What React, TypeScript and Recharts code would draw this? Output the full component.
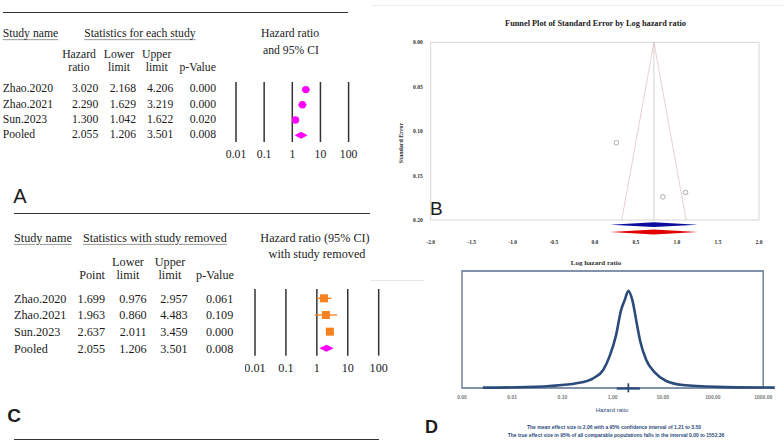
import React from "react";
import {
  ComposedChart,
  Line,
  Area,
  Scatter,
  XAxis,
  YAxis,
  ReferenceLine,
  ReferenceArea
} from "recharts";

// A: statistics for each study (last row is the pooled estimate)
const studies = ["Zhao.2020", "Zhao.2021", "Sun.2023", "Pooled"];
const hazardRatio = [3.02, 2.29, 1.3, 2.055];
const lowerLimit = [2.168, 1.629, 1.042, 1.206];
const upperLimit = [4.206, 3.219, 1.622, 3.501];
const pValue = [0.0, 0.0, 0.02, 0.008];

// C: statistics with study removed
const removedPoint = [1.699, 1.963, 2.637, 2.055];
const removedLower = [0.976, 0.86, 2.011, 1.206];
const removedUpper = [2.957, 4.483, 3.459, 3.501];
const removedP = [0.061, 0.109, 0.0, 0.008];

const forestTicks = [0.01, 0.1, 1, 10, 100];

// B: funnel plot (log hazard ratio vs standard error)
const studyLogHR = [1.105, 0.829, 0.262];
const studySE = [0.169, 0.174, 0.113];
const pooledLogHR = 0.72;
const pooledLogLower = 0.187;
const pooledLogUpper = 1.253;
const funnelLogHR = [0.328, 0.72, 1.112];
const funnelSE = [0.2, 0, 0.2];
const seTicks = [0, 0.05, 0.1, 0.15, 0.2];
const logTicks = [-2, -1.5, -1, -0.5, 0, 0.5, 1, 1.5, 2];

// D: distribution of true effects
const densityHR = [0.0026, 0.012, 0.056, 0.19, 0.41, 0.65, 0.87, 1.17, 1.48, 1.74, 2.06, 2.51, 2.95, 3.55, 4.68, 6.9, 11.7, 25, 117, 1700];
const densityValue = [0.003, 0.006, 0.017, 0.04, 0.083, 0.154, 0.27, 0.45, 0.667, 0.75, 0.83, 0.74, 0.58, 0.4, 0.24, 0.134, 0.06, 0.026, 0.01, 0.003];
const hrTicks = [0.001, 0.01, 0.1, 1, 10, 100, 1000];
const meanHR = 2.06;
const ciLower = 1.21;
const ciUpper = 3.5;
const piLower = 0.0;
const piUpper = 1552.36;

const SERIF = "'Liberation Serif', 'Times New Roman', serif";
const SANS = "'Liberation Sans', Arial, sans-serif";
const MAGENTA = "#ff00ff";
const ORANGE = "#f5821f";
const NAVY = "#2b4b7b";

type TxtProps = {
  x: number;
  y: number;
  a?: "left" | "center" | "right";
  size: number;
  children: React.ReactNode;
  style?: React.CSSProperties;
};

const Txt = ({ x, y, a = "left", size, children, style }: TxtProps) => (
  <div
    style={{
      position: "absolute",
      left: x,
      top: y,
      transform: `translate(${a === "left" ? "0" : a === "center" ? "-50%" : "-100%"}, -50%)`,
      fontSize: size,
      lineHeight: 1,
      whiteSpace: "nowrap",
      ...style
    }}
  >
    {children}
  </div>
);

const HLine = ({ x, y, w, h = 1.3, color = "#333" }: { x: number; y: number; w: number; h?: number; color?: string }) => (
  <div style={{ position: "absolute", left: x, top: y, width: w, height: h, background: color }} />
);

const underline: React.CSSProperties = {
  textDecoration: "underline",
  textDecorationColor: "#9a9a9a",
  textUnderlineOffset: 2
};

type ForestProps = {
  left: number;
  top: number;
  plotW: number;
  plotH: number;
  yDomain: [number, number];
  est: number[];
  lo: number[];
  hi: number[];
  marker: "circle" | "square";
  fontSize: number;
  half: number;
};

const Forest = ({ left, top, plotW, plotH, yDomain, est, lo, hi, marker, fontSize, half }: ForestProps) => {
  const n = studies.length - 1;
  const rows = studies.slice(0, n).map((name, i) => ({ name, x: est[i], y: i, lo: lo[i], hi: hi[i] }));
  const diamond = [
    { x: lo[n], r: [n, n] },
    { x: est[n], r: [n - half, n + half] },
    { x: hi[n], r: [n, n] }
  ];
  const color = marker === "circle" ? MAGENTA : ORANGE;
  return (
    <div style={{ position: "absolute", left, top }}>
      <ComposedChart width={plotW + 20} height={plotH + 30} margin={{ top: 10, right: 10, bottom: 0, left: 10 }}>
        <XAxis
          type="number"
          dataKey="x"
          scale="log"
          domain={[0.01, 100]}
          ticks={forestTicks}
          interval={0}
          axisLine={false}
          tickLine={false}
          height={20}
          tick={{ fontSize, fill: "#222", fontFamily: SERIF }}
          tickFormatter={(v: number) => String(v)}
        />
        <YAxis type="number" dataKey="y" domain={yDomain} reversed hide />
        {forestTicks.map((t) => (
          <ReferenceLine key={t} x={t} stroke="#333" strokeWidth={1.5} />
        ))}
        {rows.map((r) => (
          <ReferenceLine
            key={r.name}
            segment={[{ x: r.lo, y: r.y }, { x: r.hi, y: r.y }]}
            stroke={color}
            strokeWidth={1.3}
            ifOverflow="visible"
          />
        ))}
        <Scatter
          data={rows}
          isAnimationActive={false}
          shape={(p: any) =>
            marker === "circle" ? (
              <circle cx={p.cx} cy={p.cy} r={3.7} fill={MAGENTA} />
            ) : (
              <rect x={p.cx - 4} y={p.cy - 4} width={8} height={8} fill={ORANGE} />
            )
          }
        />
        <Area
          data={diamond}
          dataKey="r"
          type="linear"
          stroke="none"
          fill={MAGENTA}
          fillOpacity={1}
          dot={false}
          activeDot={false}
          isAnimationActive={false}
        />
      </ComposedChart>
    </div>
  );
};

const Funnel = () => {
  const pts = studyLogHR.map((x, i) => ({ x, y: studySE[i] }));
  const funnel = funnelLogHR.map((x, i) => ({ x, y: funnelSE[i] }));
  const diamondAt = (c: number) => [
    { x: pooledLogLower, r: [c, c] },
    { x: pooledLogHR, r: [c - 0.0027, c + 0.0027] },
    { x: pooledLogUpper, r: [c, c] }
  ];
  const tickStyle = { fontSize: 5.5, fill: "#333", fontFamily: SERIF, fontWeight: "bold" as const };
  return (
    <div style={{ position: "absolute", left: 390, top: 30 }}>
      <ComposedChart width={379} height={220} margin={{ top: 12.3, right: 10, bottom: 0, left: 0 }}>
        <XAxis
          type="number"
          dataKey="x"
          domain={[-2, 2]}
          ticks={logTicks}
          interval={0}
          axisLine={false}
          tickLine={false}
          tickSize={2}
          height={14}
          tick={tickStyle}
          tickFormatter={(v: number) => v.toFixed(1)}
        />
        <YAxis
          type="number"
          dataKey="y"
          domain={[0, 0.218]}
          reversed
          ticks={seTicks}
          interval={0}
          width={40.7}
          axisLine={false}
          tickLine={false}
          tick={tickStyle}
          tickFormatter={(v: number) => v.toFixed(2)}
        />
        <ReferenceArea x1={-2} x2={2} y1={0} y2={0.2} fill="none" stroke="#d6d6d6" strokeWidth={1} />
        <ReferenceLine
          segment={[{ x: pooledLogHR, y: 0 }, { x: pooledLogHR, y: 0.2 }]}
          stroke="#c8c8c8"
          strokeWidth={0.8}
          ifOverflow="visible"
        />
        <Line data={funnel} dataKey="y" type="linear" stroke="#dcbcbc" strokeWidth={0.7} dot={false} activeDot={false} isAnimationActive={false} />
        <Scatter
          data={pts}
          isAnimationActive={false}
          shape={(p: any) => <circle cx={p.cx} cy={p.cy} r={2.3} fill="#fff" stroke="#9a9a9a" strokeWidth={0.8} />}
        />
        <Area data={diamondAt(0.2053)} dataKey="r" type="linear" stroke="none" fill="#0b0b9e" fillOpacity={1} dot={false} activeDot={false} isAnimationActive={false} />
        <Area data={diamondAt(0.2135)} dataKey="r" type="linear" stroke="none" fill="#e30000" fillOpacity={1} dot={false} activeDot={false} isAnimationActive={false} />
      </ComposedChart>
    </div>
  );
};

const Density = () => {
  const data = densityHR.map((x, i) => ({ x, y: densityValue[i] }));
  return (
    <div style={{ position: "absolute", left: 452, top: 261 }}>
      <ComposedChart width={332} height={141} margin={{ top: 10, right: 5.7, bottom: 0, left: 10 }}>
        <XAxis
          type="number"
          dataKey="x"
          scale="log"
          domain={[0.001, 2000]}
          ticks={hrTicks}
          interval={0}
          axisLine={false}
          tickLine={false}
          tickSize={4}
          tickMargin={3}
          height={14}
          tick={{ fontSize: 5, fill: "#777", fontFamily: SANS, fontWeight: "bold" }}
          tickFormatter={(v: number) => v.toFixed(2)}
        />
        <YAxis type="number" dataKey="y" domain={[0, 1]} hide />
        <ReferenceArea x1={0.001} x2={1000} y1={0} y2={1} fill="none" stroke="#5a6f8e" strokeWidth={1.3} />
        <Line data={data} dataKey="y" type="monotone" stroke={NAVY} strokeWidth={2.6} dot={false} activeDot={false} isAnimationActive={false} />
        <ReferenceLine
          segment={[{ x: ciLower, y: -0.004 }, { x: ciUpper, y: -0.004 }]}
          stroke={NAVY}
          strokeWidth={2.4}
          ifOverflow="visible"
        />
        <ReferenceLine
          segment={[{ x: meanHR, y: 0.04 }, { x: meanHR, y: -0.037 }]}
          stroke={NAVY}
          strokeWidth={1.8}
          ifOverflow="visible"
        />
      </ComposedChart>
    </div>
  );
};

const fmt = (v: number) => v.toFixed(3);

const App = () => {
  const rowA = (i: number) => 89.3 + i * 15.2;
  const rowC = (i: number) => 298.7 + i * 16.67;
  const fa = 11.7;
  const fc = 12.2;
  return (
    <div
      style={{
        position: "absolute",
        left: 0,
        top: 0,
        width: 784,
        height: 444,
        overflow: "hidden",
        background: "#fff",
        fontFamily: SERIF,
        color: "#1c1c1c"
      }}
    >
      {/* faint scan lines */}
      <HLine x={372} y={4.5} w={412} h={1} color="#ececec" />
      <HLine x={370} y={279.5} w={54} h={1} color="#e6e6e6" />

      {/* Panel A */}
      <HLine x={2.7} y={11.7} w={345.6} />
      <Txt x={2.7} y={34.3} size={fa} style={underline}>Study name</Txt>
      <Txt x={84.3} y={34.3} size={fa} style={underline}>Statistics for each study</Txt>
      <Txt x={290} y={34.3} a="center" size={fa}>Hazard ratio</Txt>
      <Txt x={291} y={50.7} a="center" size={fa}>and 95% CI</Txt>
      <Txt x={79} y={55} a="center" size={fa}>Hazard</Txt>
      <Txt x={79} y={68.3} a="center" size={fa}>ratio</Txt>
      <Txt x={119} y={55} a="center" size={fa}>Lower</Txt>
      <Txt x={119} y={68.3} a="center" size={fa}>limit</Txt>
      <Txt x={156.7} y={55} a="center" size={fa}>Upper</Txt>
      <Txt x={156.7} y={68.3} a="center" size={fa}>limit</Txt>
      <Txt x={197.7} y={68.3} a="center" size={fa}>p-Value</Txt>
      {studies.map((s, i) => (
        <React.Fragment key={s}>
          <Txt x={2.7} y={rowA(i)} size={fa}>{s}</Txt>
          <Txt x={98.3} y={rowA(i)} a="right" size={fa}>{fmt(hazardRatio[i])}</Txt>
          <Txt x={136} y={rowA(i)} a="right" size={fa}>{fmt(lowerLimit[i])}</Txt>
          <Txt x={173.3} y={rowA(i)} a="right" size={fa}>{fmt(upperLimit[i])}</Txt>
          <Txt x={216} y={rowA(i)} a="right" size={fa}>{fmt(pValue[i])}</Txt>
        </React.Fragment>
      ))}
      <Forest
        left={225.7}
        top={71.7}
        plotW={112.6}
        plotH={60}
        yDomain={[-0.5, 3.45]}
        est={hazardRatio}
        lo={lowerLimit}
        hi={upperLimit}
        marker="circle"
        fontSize={fa}
        half={0.23}
      />
      <Txt x={13.3} y={196} size={20} style={{ fontFamily: SANS }}>A</Txt>

      {/* Panel C */}
      <HLine x={14} y={212.7} w={356} />
      <Txt x={14} y={237.7} size={fc} style={underline}>Study name</Txt>
      <Txt x={83} y={237.7} size={fc} style={underline}>Statistics with study removed</Txt>
      <Txt x={315} y={237.7} a="center" size={fc}>Hazard ratio (95% CI)</Txt>
      <Txt x={317} y={254} a="center" size={fc}>with study removed</Txt>
      <Txt x={128} y={261.7} a="center" size={fc}>Lower</Txt>
      <Txt x={128} y={275} a="center" size={fc}>limit</Txt>
      <Txt x={170} y={261.7} a="center" size={fc}>Upper</Txt>
      <Txt x={170} y={275} a="center" size={fc}>limit</Txt>
      <Txt x={92} y={275} a="center" size={fc}>Point</Txt>
      <Txt x={215} y={275} a="center" size={fc}>p-Value</Txt>
      {studies.map((s, i) => (
        <React.Fragment key={s}>
          <Txt x={14} y={rowC(i)} size={fc}>{s}</Txt>
          <Txt x={105} y={rowC(i)} a="right" size={fc}>{fmt(removedPoint[i])}</Txt>
          <Txt x={146.7} y={rowC(i)} a="right" size={fc}>{fmt(removedLower[i])}</Txt>
          <Txt x={187.7} y={rowC(i)} a="right" size={fc}>{fmt(removedUpper[i])}</Txt>
          <Txt x={233.3} y={rowC(i)} a="right" size={fc}>{fmt(removedP[i])}</Txt>
        </React.Fragment>
      ))}
      <Forest
        left={245.3}
        top={279.3}
        plotW={123.7}
        plotH={66.7}
        yDomain={[-0.56, 3.44]}
        est={removedPoint}
        lo={removedLower}
        hi={removedUpper}
        marker="square"
        fontSize={fc}
        half={0.21}
      />
      <Txt x={7.3} y={415} size={19} style={{ fontFamily: SANS, fontWeight: "bold" }}>C</Txt>
      <HLine x={14} y={438.7} w={365} />

      {/* Panel B */}
      <Txt x={595.5} y={24.3} a="center" size={8.3} style={{ fontWeight: "bold" }}>
        Funnel Plot of Standard Error by Log hazard ratio
      </Txt>
      <div
        style={{
          position: "absolute",
          left: 401,
          top: 143,
          transform: "translate(-50%, -50%) rotate(-90deg)",
          fontSize: 6,
          fontWeight: "bold",
          lineHeight: 1,
          whiteSpace: "nowrap",
          color: "#333"
        }}
      >
        Standard Error
      </div>
      <Funnel />
      <Txt x={430} y={208.3} size={19} style={{ fontFamily: SANS }}>B</Txt>

      {/* Panel D */}
      <Txt x={596} y={263} a="center" size={7} style={{ fontWeight: "bold", color: "#333" }}>Log hazard ratio</Txt>
      <Density />
      <Txt x={612} y={410} a="center" size={6} style={{ fontFamily: SANS, color: NAVY }}>Hazard ratio</Txt>
      <Txt x={614} y={427.3} a="center" size={5} style={{ fontFamily: SANS, fontWeight: "bold", color: NAVY }}>
        {`The mean effect size is ${meanHR.toFixed(2)} with a 95% confidence interval of ${ciLower.toFixed(2)} to ${ciUpper.toFixed(2)}`}
      </Txt>
      <Txt x={616} y={435} a="center" size={5} style={{ fontFamily: SANS, fontWeight: "bold", color: NAVY }}>
        {`The true effect size in 95% of all comparable populations falls in the interval ${piLower.toFixed(2)} to ${piUpper.toFixed(2)}`}
      </Txt>
      <Txt x={425} y={427} size={18} style={{ fontFamily: SANS, fontWeight: "bold" }}>D</Txt>
    </div>
  );
};

export default App;
